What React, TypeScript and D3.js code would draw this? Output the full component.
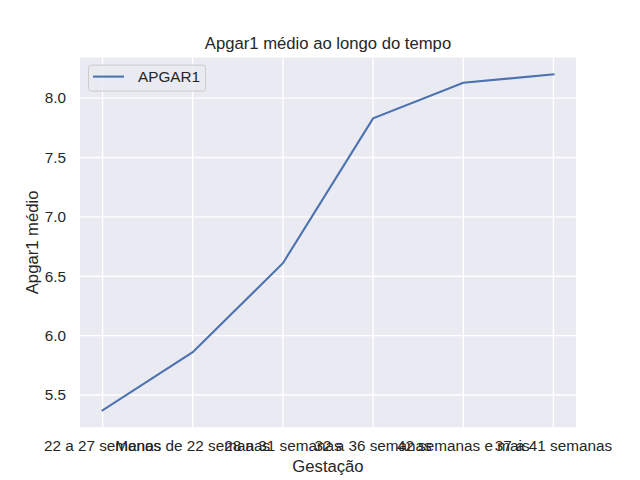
import React from "react";
import * as d3 from "d3";

const categories = [
  "22 a 27 semanas",
  "Menos de 22 semanas",
  "28 a 31 semanas",
  "32 a 36 semanas",
  "42 semanas e mais",
  "37 a 41 semanas",
];
const apgar1 = [5.37, 5.86, 6.61, 7.83, 8.13, 8.2];
const yTicks = [5.5, 6.0, 6.5, 7.0, 7.5, 8.0];

const width = 640;
const height = 480;
const margin = { top: 57.6, right: 64, bottom: 52.8, left: 80 };
const font = "Arial, 'Liberation Sans', sans-serif";

export default function App() {
  const innerW = width - margin.left - margin.right;
  const innerH = height - margin.top - margin.bottom;

  const n = categories.length;
  const xScale = d3.scaleLinear().domain([-0.05 * (n - 1), (n - 1) * 1.05]).range([0, innerW]);
  const yMin = d3.min(apgar1)!;
  const yMax = d3.max(apgar1)!;
  const pad = (yMax - yMin) * 0.05;
  const yScale = d3.scaleLinear().domain([yMin - pad, yMax + pad]).range([innerH, 0]);

  const line = d3
    .line<number>()
    .x((_, i) => xScale(i))
    .y((d) => yScale(d));

  return (
    <svg width={width} height={height} style={{ position: "absolute", left: 0, top: 0 }} fontFamily={font}>
      <rect width={width} height={height} fill="white" />
      <g transform={`translate(${margin.left},${margin.top})`}>
        <rect width={innerW} height={innerH} fill="#EAEAF2" />
        {categories.map((c, i) => (
          <line key={c} x1={xScale(i)} x2={xScale(i)} y1={0} y2={innerH} stroke="white" strokeWidth={1.4} />
        ))}
        {yTicks.map((t) => (
          <line key={t} x1={0} x2={innerW} y1={yScale(t)} y2={yScale(t)} stroke="white" strokeWidth={1.4} />
        ))}
        <path d={line(apgar1) ?? ""} fill="none" stroke="#4C72B0" strokeWidth={2.08} strokeLinecap="square" />

        {/* tick labels */}
        {yTicks.map((t) => (
          <text key={t} x={-14} y={yScale(t)} dy="0.35em" textAnchor="end" fontSize={15.3} fill="#262626">
            {t.toFixed(1)}
          </text>
        ))}
        {categories.map((c, i) => (
          <text key={c} x={xScale(i)} y={innerH + 24} textAnchor="middle" fontSize={15.3} fill="#262626">
            {c}
          </text>
        ))}

        {/* legend */}
        <rect x={8.5} y={7.5} width={117} height={26} rx={3} fill="#EAEAF2" fillOpacity={0.8} stroke="#cccccc" strokeWidth={1} />
        <line x1={13} x2={44} y1={19} y2={19} stroke="#4C72B0" strokeWidth={2.08} />
        <text x={58} y={19} dy="0.35em" fontSize={15.3} fill="#262626">
          APGAR1
        </text>
      </g>

      <text x={margin.left + innerW / 2} y={49} textAnchor="middle" fontSize={16.67} fill="#262626">
        Apgar1 médio ao longo do tempo
      </text>
      <text x={margin.left + innerW / 2} y={472} textAnchor="middle" fontSize={16.67} fill="#262626">
        Gestação
      </text>
      <text
        transform={`translate(38,${margin.top + innerH / 2}) rotate(-90)`}
        textAnchor="middle"
        fontSize={16.67}
        fill="#262626"
      >
        Apgar1 médio
      </text>
    </svg>
  );
}
